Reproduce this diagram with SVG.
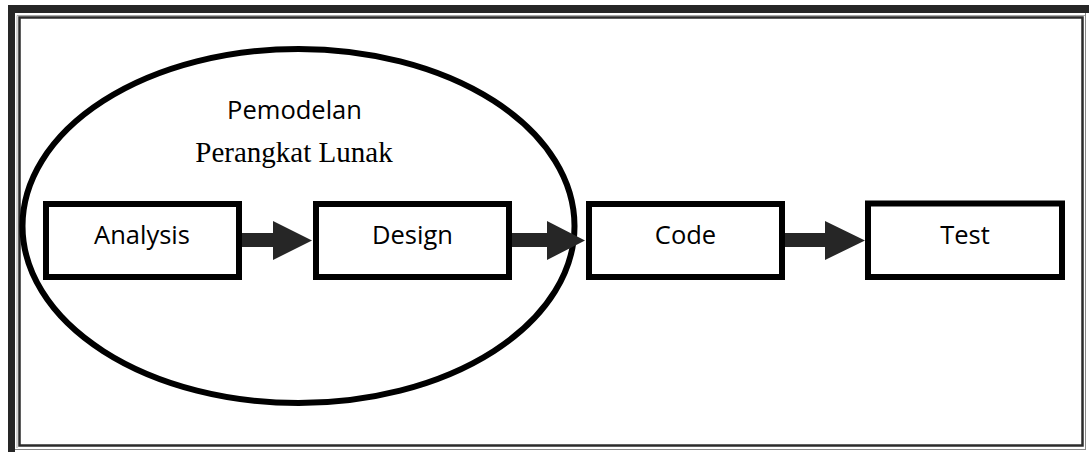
<svg xmlns="http://www.w3.org/2000/svg" width="1089" height="452" viewBox="0 0 1089 452">
<defs>
<style>
.box{fill:#fff;stroke:#000;stroke-width:6}
.lbl{font-family:"Open Sans","Noto Sans",sans-serif;font-size:25.5px;fill:#000;text-anchor:middle}
.serif{font-family:"Liberation Serif","Times New Roman",serif;font-size:29px;fill:#000;text-anchor:middle}
.arr{fill:#262626}
</style>
</defs>
<rect width="1089" height="452" fill="#fff"/>
<g id="frame">
<rect x="8" y="5" width="1081" height="8" fill="#262626"/>
<rect x="8" y="5" width="7" height="447" fill="#262626"/>
<rect x="19.5" y="17.5" width="1063" height="428" fill="none" stroke="#2b2b2b" stroke-width="2.5"/>
<line x1="17" y1="15.5" x2="1085" y2="15.5" stroke="#aaa" stroke-width="1"/>
<line x1="17" y1="15.5" x2="17" y2="448" stroke="#aaa" stroke-width="1"/>
<line x1="1085.5" y1="13" x2="1085.5" y2="450" stroke="#888" stroke-width="1"/>
<line x1="15" y1="449.5" x2="1086" y2="449.5" stroke="#888" stroke-width="1"/>
</g>
<g id="pemodelan">
<ellipse cx="298.5" cy="226" rx="276" ry="177" fill="none" stroke="#000" stroke-width="6"/>
<text class="lbl" x="294.5" y="119">Pemodelan</text>
<text class="serif" x="294" y="162">Perangkat Lunak</text>
</g>
<g id="connectors">
<polygon class="arr" points="242,233 273,233 273,221 312,240.5 273,260 273,247 242,247"/>
<polygon class="arr" points="512,233 547,233 547,221 585,240.5 547,260 547,247 512,247"/>
<polygon class="arr" points="785,233 825,233 825,221 865,240.5 825,260 825,247 785,247"/>
</g>
<g id="analysis">
<rect class="box" x="46" y="204" width="193" height="73"/>
<text class="lbl" x="142" y="244">Analysis</text>
</g>
<g id="design">
<rect class="box" x="316" y="204" width="193" height="73"/>
<text class="lbl" x="412.5" y="244">Design</text>
</g>
<g id="code">
<rect class="box" x="589" y="204" width="193" height="73"/>
<text class="lbl" x="685.5" y="244">Code</text>
</g>
<g id="test">
<rect class="box" x="868" y="203.5" width="194" height="73.5"/>
<text class="lbl" x="965" y="244">Test</text>
</g>
</svg>
